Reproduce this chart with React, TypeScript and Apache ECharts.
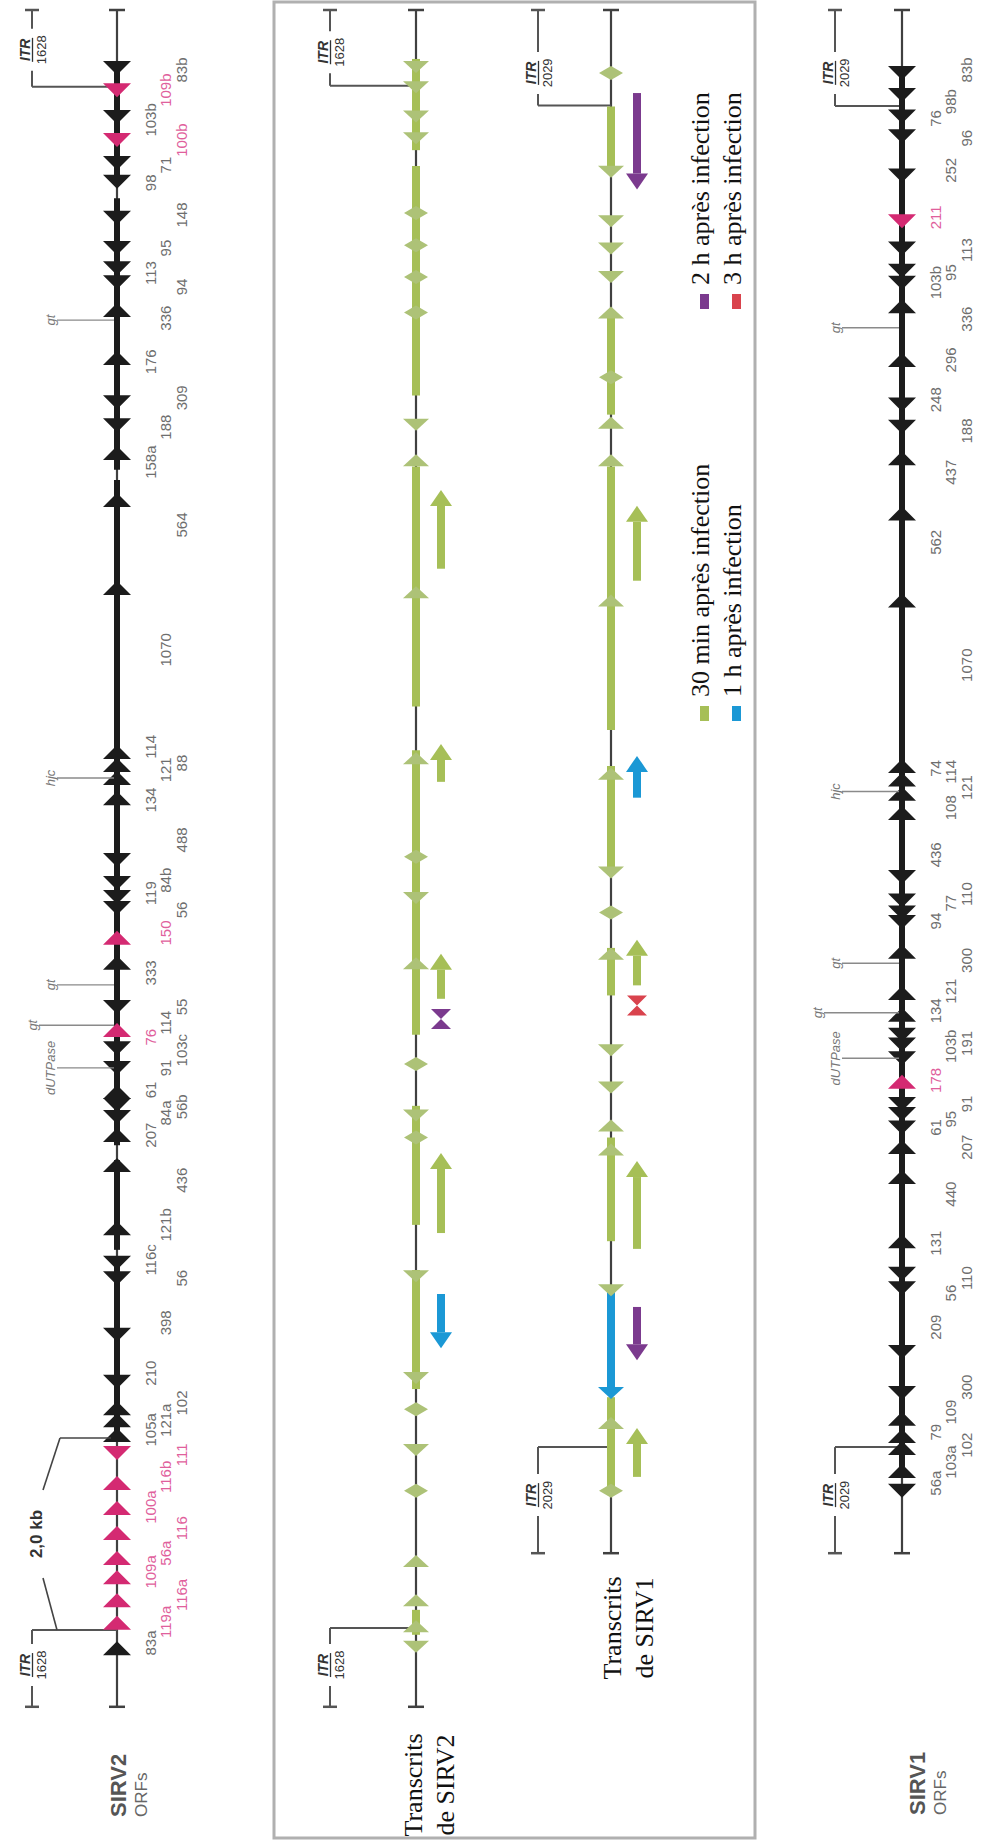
import React, { useEffect, useRef } from "react";
import * as echarts from "echarts";

/* ===================== DATA ===================== */
// The map is drawn rotated: each genome runs vertically.
// Positions are in kb, counted from the genome end drawn at the top.
const sirv2LengthKb = 35.35;
const sirv1LengthKb = 32.15;
const sirv2ItrBp = "1628";
const sirv1ItrBp = "2029";
const scaleBarText = "2,0 kb";

const timePoints = [
  "30 min après infection",
  "1 h après infection",
  "2 h après infection",
  "3 h après infection",
];

// ITR brackets: [genome end kb, junction kb, label kb]
const sirv2OrfItrs = [[0, 1.6, 0.83], [35.35, 33.75, 34.48]];
const sirv2TxItrs = [[0, 1.58, 0.88], [35.35, 33.71, 34.48]];
const sirv1TxItrs = [[0, 1.99, 1.31], [32.15, 29.94, 30.94]];
const sirv1OrfItrs = [[0, 2.0, 1.31], [32.15, 29.94, 30.94]];

// ----- SIRV2 ORFs -----
// coding stretches [from kb, to kb]
const sirv2OrfBlocks = [[1.08, 3.65], [3.92, 9.58], [9.79, 20.63], [20.73, 23.65], [23.96, 25.83], [26.08, 29.79]];
// arrow heads [kb, direction (1 = towards top, -1 = towards bottom), group (0 = ORF, 1 = highlighted ORF)]
const sirv2OrfHeads = [
  [1.21, -1, 0], [1.67, -1, 1], [2.23, -1, 0], [2.71, -1, 1], [3.19, -1, 0], [3.58, -1, 0], [4.33, -1, 0], [4.96, -1, 0],
  [5.38, -1, 0], [5.67, -1, 0], [6.25, 1, 0], [7.25, 1, 0], [8.17, -1, 0], [8.65, -1, 0], [9.23, 1, 0], [10.21, 1, 0],
  [12.04, 1, 0], [15.46, 1, 0], [15.73, 1, 0], [16.0, 1, 0], [16.42, 1, 0], [17.71, -1, 0], [18.19, -1, 0], [18.48, -1, 0],
  [18.71, -1, 0], [19.33, 1, 1], [19.85, 1, 0], [20.77, -1, 0], [21.25, 1, 1], [21.63, -1, 0], [22.04, -1, 0], [22.54, 1, 0],
  [22.81, -1, 0], [23.06, -1, 0], [23.44, 1, 0], [24.06, 1, 0], [25.38, 1, 0], [26.1, -1, 0], [26.42, -1, 0], [27.6, -1, 0],
  [28.58, -1, 0], [29.13, 1, 0], [29.38, 1, 0], [29.69, 1, 0], [30.06, -1, 1], [30.69, 1, 1], [31.21, 1, 1], [31.73, 1, 1],
  [32.25, 1, 1], [32.65, 1, 1], [33.13, 1, 1], [33.6, 1, 1], [34.13, 1, 0],
];
// ORF names [name, kb, label column, group]
const sirv2OrfLabels = [
  ["83b", 1.25, 2, 0], ["109b", 1.67, 1, 1], ["103b", 2.29, 0, 0], ["100b", 2.71, 2, 1], ["71", 3.23, 1, 0], ["98", 3.6, 0, 0],
  ["148", 4.27, 2, 0], ["95", 4.96, 1, 0], ["113", 5.48, 0, 0], ["94", 5.77, 2, 0], ["336", 6.42, 1, 0], ["176", 7.33, 0, 0],
  ["309", 8.08, 2, 0], ["188", 8.69, 1, 0], ["158a", 9.42, 0, 0], ["564", 10.73, 2, 0], ["1070", 13.33, 1, 0], ["114", 15.35, 0, 0],
  ["88", 15.69, 2, 0], ["121", 15.83, 1, 0], ["134", 16.46, 0, 0], ["488", 17.29, 2, 0], ["84b", 18.13, 1, 0], ["119", 18.4, 0, 0],
  ["56", 18.75, 2, 0], ["150", 19.23, 1, 1], ["333", 20.06, 0, 0], ["55", 20.77, 2, 0], ["114", 21.1, 1, 0], ["76", 21.4, 0, 1],
  ["103c", 21.67, 2, 0], ["91", 22.04, 1, 0], ["61", 22.5, 0, 0], ["56b", 22.85, 2, 0], ["84a", 22.98, 1, 0], ["207", 23.44, 0, 0],
  ["436", 24.38, 2, 0], ["121b", 25.31, 1, 0], ["116c", 26.04, 0, 0], ["56", 26.42, 2, 0], ["398", 27.35, 1, 0], ["210", 28.4, 0, 0],
  ["102", 29.02, 2, 0], ["121a", 29.38, 1, 0], ["105a", 29.58, 0, 0], ["111", 30.1, 2, 1], ["116b", 30.56, 1, 1], ["100a", 31.19, 0, 1],
  ["116", 31.63, 2, 1], ["56a", 32.15, 1, 1], ["109a", 32.54, 0, 1], ["116a", 33.02, 2, 1], ["119a", 33.58, 1, 1], ["83a", 34.02, 0, 0],
];
// annotated genes [name, kb]
const sirv2Genes = [["gt", 6.46], ["hjc", 16.0], ["gt", 20.31], ["gt", 21.15], ["dUTPase", 22.04]];
const sirv2ScaleBar = [[29.75, 33.75]];

// ----- SIRV2 transcripts -----
// transcribed stretches on the genome line [from kb, to kb, time point]
const sirv2TxBlocks = [[1.02, 2.92, 0], [3.25, 8.03, 0], [9.51, 14.51, 0], [15.42, 21.35, 0], [22.83, 25.31, 0], [26.25, 28.73, 0], [33.33, 33.85, 0]];
// transcript ends on the genome line [kb, direction (0 = both), time point]
const sirv2TxMarks = [
  [1.19, -1, 0], [1.61, -1, 0], [2.22, -1, 0], [2.67, -1, 0], [4.23, 0, 0], [4.9, 0, 0], [5.56, 0, 0], [6.3, 0, 0], [8.64, -1, 0],
  [9.38, 1, 0], [12.13, 1, 0], [15.59, 1, 0], [17.64, 0, 0], [18.5, -1, 0], [19.86, 1, 0], [21.96, 0, 0], [23.03, -1, 0], [23.49, 0, 0],
  [26.38, -1, 0], [28.5, -1, 0], [29.15, 0, 0], [30.0, -1, 0], [30.85, 0, 0], [32.31, 1, 0], [33.13, 1, 0], [33.67, 1, 0], [34.1, -1, 0],
];
// transcripts beside the genome [tail kb, head kb, time point]
const sirv2TxArrows = [[11.64, 10.0, 0], [16.08, 15.29, 0], [20.6, 19.66, 0], [25.48, 23.81, 0], [26.75, 27.88, 1]];
// very short transcripts [kb, time point]
const sirv2TxShort = [[21.02, 2]];

// ----- SIRV1 transcripts -----
const sirv1TxBlocks = [[2.01, 3.25, 0], [6.38, 8.43, 0], [9.51, 15.0, 0], [15.75, 17.89, 0], [19.54, 20.53, 0], [23.49, 25.65, 0], [26.67, 28.81, 1], [28.9, 30.77, 0]];
const sirv1TxMarks = [
  [1.31, 0, 0], [3.37, -1, 0], [4.4, -1, 0], [4.97, -1, 0], [5.56, -1, 0], [6.3, 1, 0], [7.65, 0, 0], [8.6, 1, 0], [9.38, 1, 0],
  [12.3, 1, 0], [15.91, 1, 0], [17.97, -1, 0], [18.8, 0, 0], [19.66, 1, 0], [21.67, -1, 0], [22.45, -1, 0], [23.24, 1, 0],
  [23.74, 1, 0], [26.67, -1, 0], [28.81, -1, 1], [29.44, 1, 0], [30.85, 0, 0],
];
const sirv1TxArrows = [[1.73, 3.74, 2], [11.89, 10.33, 0], [16.41, 15.54, 1], [20.32, 19.37, 0], [25.81, 23.98, 0], [27.02, 28.13, 2], [30.56, 29.54, 0]];
const sirv1TxShort = [[20.74, 3]];

// ----- SIRV1 ORFs -----
const sirv1OrfBlocks = [[1.25, 12.3], [12.3, 30.5]];
const sirv1OrfHeads = [
  [1.31, -1, 0], [1.77, -1, 0], [2.22, -1, 0], [2.63, -1, 0], [3.45, -1, 0], [4.4, -1, 1], [4.97, -1, 0], [5.43, -1, 0], [5.68, -1, 0],
  [6.17, 1, 0], [7.29, 1, 0], [8.22, -1, 0], [8.68, -1, 0], [9.34, 1, 0], [10.49, 1, 0], [12.3, 1, 0], [15.75, 1, 0], [16.03, 1, 0],
  [16.33, 1, 0], [16.73, 1, 0], [18.06, -1, 0], [18.55, -1, 0], [18.8, -1, 0], [19.0, -1, 0], [19.62, 1, 0], [20.48, 1, 0], [20.93, 1, 0],
  [21.35, -1, 0], [21.55, -1, 0], [21.84, -1, 0], [22.33, 1, 1], [22.79, -1, 0], [23.0, -1, 0], [23.28, -1, 0], [23.69, 1, 0], [24.31, 1, 0],
  [25.65, 1, 0], [26.33, -1, 0], [26.63, -1, 0], [27.96, -1, 0], [28.81, -1, 0], [29.35, 1, 0], [29.71, 1, 0], [29.96, 1, 0], [30.44, 1, 0],
  [30.85, -1, 0],
];
const sirv1OrfLabels = [
  ["83b", 1.25, 2, 0], ["98b", 1.91, 1, 0], ["76", 2.26, 0, 0], ["96", 2.67, 2, 0], ["252", 3.34, 1, 0], ["211", 4.32, 0, 1],
  ["113", 5.0, 2, 0], ["95", 5.47, 1, 0], ["103b", 5.68, 0, 0], ["336", 6.44, 2, 0], ["296", 7.29, 1, 0], ["248", 8.12, 0, 0],
  ["188", 8.77, 2, 0], ["437", 9.63, 1, 0], ["562", 11.09, 0, 0], ["1070", 13.65, 2, 0], ["74", 15.8, 0, 0], ["114", 15.87, 1, 0],
  ["121", 16.2, 2, 0], ["108", 16.62, 1, 0], ["436", 17.6, 0, 0], ["110", 18.42, 2, 0], ["77", 18.61, 1, 0], ["94", 18.98, 0, 0],
  ["300", 19.8, 2, 0], ["121", 20.44, 1, 0], ["134", 20.85, 0, 0], ["191", 21.53, 2, 0], ["103b", 21.59, 1, 0], ["178", 22.3, 0, 1],
  ["91", 22.79, 2, 0], ["95", 23.11, 1, 0], ["61", 23.28, 0, 0], ["207", 23.69, 2, 0], ["440", 24.67, 1, 0], ["131", 25.69, 0, 0],
  ["110", 26.42, 2, 0], ["56", 26.73, 1, 0], ["209", 27.44, 0, 0], ["300", 28.69, 2, 0], ["109", 29.21, 1, 0], ["79", 29.63, 0, 0],
  ["102", 29.9, 2, 0], ["103a", 30.25, 1, 0], ["56a", 30.69, 0, 0],
];
const sirv1Genes = [["gt", 6.62], ["hjc", 16.28], ["gt", 19.86], ["gt", 20.89], ["dUTPase", 21.84]];

/* ===================== LAYOUT & STYLE ===================== */
const W = 989;
const H = 1843;
const KB_PX = 48;
const TOP = 10;
const TRACKS = [
  { x: 117, len: sirv2LengthKb, itrOff: -85, lane: 0 },
  { x: 416, len: sirv2LengthKb, itrOff: -86, lane: 25 },
  { x: 611, len: sirv1LengthKb, itrOff: -73, lane: 26 },
  { x: 915, len: sirv1LengthKb, itrOff: -77, lane: 0 },
];
const COLS = [33, 48, 64];
const SANS = "'Liberation Sans', Arial, sans-serif";
const SERIF = "'Liberation Serif', 'Times New Roman', serif";
const BACKBONE = "#404040";
const ORF_COLORS = ["#1c1c1c", "#d42a72"];
const LABEL_COLORS = ["#6e6e6e", "#e0609c"];
const TIME_COLORS = ["#a6bf57", "#1b98d5", "#7b3a8e", "#d9434d"];
const MARK_GREEN = "#adc277";

/* ===================== HELPERS ===================== */
const line = (x1: number, y1: number, x2: number, y2: number, stroke: string, lineWidth: number) => ({
  type: "line",
  shape: { x1, y1, x2, y2 },
  style: { stroke, lineWidth },
});
const poly = (points: number[][], fill: string) => ({ type: "polygon", shape: { points }, style: { fill } });
const tri = (cx: number, cy: number, dir: number, w: number, h: number, fill: string) =>
  dir > 0
    ? poly([[cx, cy - h / 2], [cx - w / 2, cy + h / 2], [cx + w / 2, cy + h / 2]], fill)
    : poly([[cx, cy + h / 2], [cx - w / 2, cy - h / 2], [cx + w / 2, cy - h / 2]], fill);
const vText = (x: number, y: number, text: string, size: number, fill: string, extra: any = {}) => ({
  type: "text",
  x,
  y,
  rotation: Math.PI / 2,
  style: { text, x: 0, y: 0, fontSize: size, fontFamily: SANS, fill, align: "center", verticalAlign: "middle", ...extra },
});

const custom = (idx: number, data: any[], renderItem: any, z: number) => ({
  type: "custom",
  coordinateSystem: "cartesian2d",
  xAxisIndex: idx,
  yAxisIndex: idx,
  data,
  renderItem,
  z,
  silent: true,
  clip: false,
});

const backboneSeries = (idx: number) =>
  custom(idx, [[0, TRACKS[idx].len]], (p: any, api: any) => {
    const a = api.coord([0, api.value(0)]);
    const b = api.coord([0, api.value(1)]);
    return {
      type: "group",
      children: [
        line(a[0], a[1], b[0], b[1], BACKBONE, 2.2),
        line(a[0] - 8, a[1], a[0] + 8, a[1], BACKBONE, 2.5),
        line(b[0] - 8, b[1], b[0] + 8, b[1], BACKBONE, 2.5),
      ],
    };
  }, 1);

const itrSeries = (idx: number, itrs: number[][], bp: string) =>
  custom(idx, itrs, (p: any, api: any) => {
    const off = TRACKS[idx].itrOff;
    const e = api.coord([off, api.value(0)]);
    const j = api.coord([off, api.value(1)]);
    const t = api.coord([0, api.value(1)]);
    const l = api.coord([off, api.value(2)]);
    return {
      type: "group",
      children: [
        line(e[0], e[1], j[0], j[1], "#555", 2),
        line(j[0], j[1], t[0], t[1], "#555", 2),
        line(e[0] - 7, e[1], e[0] + 7, e[1], "#555", 2.5),
        { type: "rect", shape: { x: l[0] - 19, y: l[1] - 21, width: 38, height: 42 }, style: { fill: "#fff" } },
        vText(l[0] - 7, l[1], "ITR", 14, "#333", { fontWeight: "bold", fontStyle: "italic" }),
        line(l[0] + 0.5, l[1] - 12, l[0] + 0.5, l[1] + 12, "#333", 1.3),
        vText(l[0] + 9, l[1], bp, 13, "#333"),
      ],
    };
  }, 2);

const orfBlockSeries = (idx: number, blocks: number[][]) =>
  custom(idx, blocks, (p: any, api: any) => {
    const a = api.coord([0, api.value(0)]);
    const b = api.coord([0, api.value(1)]);
    return line(a[0], a[1], b[0], b[1], ORF_COLORS[0], 6);
  }, 2);

const orfHeadSeries = (idx: number, heads: number[][]) =>
  custom(idx, heads, (p: any, api: any) => {
    const c = api.coord([0, api.value(0)]);
    return tri(c[0], c[1], api.value(1), 28, 14, ORF_COLORS[api.value(2)]);
  }, 3);

const orfLabelSeries = (idx: number, labels: any[]) =>
  custom(idx, labels.map((l) => [l[1], l[2], l[3]]), (p: any, api: any) => {
    const c = api.coord([0, api.value(0)]);
    return vText(c[0] + COLS[api.value(1)], c[1], labels[p.dataIndex][0], 15, LABEL_COLORS[api.value(2)]);
  }, 4);

const geneSeries = (idx: number, genes: any[]) =>
  custom(idx, genes.map((g) => [g[1]]), (p: any, api: any) => {
    const i = p.dataIndex;
    const kb = api.value(0);
    const prev = i > 0 ? genes[i - 1][1] : null;
    const next = i < genes.length - 1 ? genes[i + 1][1] : null;
    const far = prev != null && next != null && kb - prev < 1.2 && next - kb < 1.2;
    const off = far ? -85 : -67;
    const c = api.coord([0, kb]);
    const txt = genes[i][0];
    return {
      type: "group",
      children: [
        line(c[0] + off + 7, c[1], c[0] - 3, c[1], "#8a8a8a", 1.4),
        vText(c[0] + off, c[1], txt, 13, "#777", { fontStyle: "italic" }),
      ],
    };
  }, 4);

const scaleBarSeries = (idx: number) =>
  custom(idx, sirv2ScaleBar, (p: any, api: any) => {
    const a = api.coord([0, api.value(0)]);
    const b = api.coord([0, api.value(1)]);
    const xb = a[0] - 57;
    const xd = a[0] - 74;
    const mid = (a[1] + b[1]) / 2;
    return {
      type: "group",
      children: [
        line(a[0] - 6, a[1], xb, a[1], "#444", 1.6),
        line(xb, a[1], xd, a[1] + 52, "#444", 1.6),
        line(xd, b[1] - 52, xb - 3, b[1], "#444", 1.6),
        vText(a[0] - 81, mid, scaleBarText, 17, "#333", { fontWeight: "bold" }),
      ],
    };
  }, 4);

const txBlockSeries = (idx: number, blocks: number[][]) =>
  custom(idx, blocks, (p: any, api: any) => {
    const a = api.coord([0, api.value(0)]);
    const b = api.coord([0, api.value(1)]);
    return line(a[0], a[1], b[0], b[1], TIME_COLORS[api.value(2)], 8);
  }, 2);

const txMarkSeries = (idx: number, marks: number[][]) =>
  custom(idx, marks, (p: any, api: any) => {
    const c = api.coord([0, api.value(0)]);
    const dir = api.value(1);
    const t = api.value(2);
    const color = t === 0 ? MARK_GREEN : TIME_COLORS[t];
    if (dir === 0) {
      return poly([[c[0], c[1] - 7], [c[0] + 12, c[1]], [c[0], c[1] + 7], [c[0] - 12, c[1]]], color);
    }
    return tri(c[0], c[1], dir, 26, 12, color);
  }, 3);

const txArrowSeries = (idx: number, arrows: number[][]) =>
  custom(idx, arrows, (p: any, api: any) => {
    const lane = TRACKS[idx].lane;
    const tail = api.coord([lane, api.value(0)]);
    const head = api.coord([lane, api.value(1)]);
    const color = TIME_COLORS[api.value(2)];
    const dir = head[1] < tail[1] ? 1 : -1;
    const hh = 16;
    const hw = 22;
    const baseY = head[1] + dir * hh;
    return {
      type: "group",
      children: [
        line(tail[0], tail[1], head[0], baseY, color, 8),
        poly([[head[0], head[1]], [head[0] - hw / 2, baseY], [head[0] + hw / 2, baseY]], color),
      ],
    };
  }, 3);

const txShortSeries = (idx: number, items: number[][]) =>
  custom(idx, items, (p: any, api: any) => {
    const lane = TRACKS[idx].lane;
    const c = api.coord([lane, api.value(0)]);
    const color = TIME_COLORS[api.value(1)];
    return {
      type: "group",
      children: [
        poly([[c[0] - 10, c[1] - 10], [c[0] + 10, c[1] - 10], [c[0], c[1]]], color),
        poly([[c[0], c[1]], [c[0] - 10, c[1] + 10], [c[0] + 10, c[1] + 10]], color),
      ],
    };
  }, 3);

/* ===================== OPTION ===================== */
function buildOption() {
  const grid = TRACKS.map((t) => ({ left: t.x - 100, top: TOP, width: 200, height: t.len * KB_PX }));
  const xAxis = TRACKS.map((t, i) => ({ type: "value", gridIndex: i, min: -100, max: 100, show: false }));
  const yAxis = TRACKS.map((t, i) => ({ type: "value", gridIndex: i, min: 0, max: t.len, inverse: true, show: false }));

  const series = [
    // SIRV2 ORFs
    backboneSeries(0),
    itrSeries(0, sirv2OrfItrs, sirv2ItrBp),
    orfBlockSeries(0, sirv2OrfBlocks),
    orfHeadSeries(0, sirv2OrfHeads),
    orfLabelSeries(0, sirv2OrfLabels),
    geneSeries(0, sirv2Genes),
    scaleBarSeries(0),
    // SIRV2 transcripts
    backboneSeries(1),
    itrSeries(1, sirv2TxItrs, sirv2ItrBp),
    txBlockSeries(1, sirv2TxBlocks),
    txMarkSeries(1, sirv2TxMarks),
    txArrowSeries(1, sirv2TxArrows),
    txShortSeries(1, sirv2TxShort),
    // SIRV1 transcripts
    backboneSeries(2),
    itrSeries(2, sirv1TxItrs, sirv1ItrBp),
    txBlockSeries(2, sirv1TxBlocks),
    txMarkSeries(2, sirv1TxMarks),
    txArrowSeries(2, sirv1TxArrows),
    txShortSeries(2, sirv1TxShort),
    // SIRV1 ORFs
    backboneSeries(3),
    itrSeries(3, sirv1OrfItrs, sirv1ItrBp),
    orfBlockSeries(3, sirv1OrfBlocks),
    orfHeadSeries(3, sirv1OrfHeads),
    orfLabelSeries(3, sirv1OrfLabels),
    geneSeries(3, sirv1Genes),
  ];

  const serifText = (x: number, y: number, text: string, align: string) => ({
    type: "text",
    x,
    y,
    rotation: Math.PI / 2,
    style: { text, x: 0, y: 0, fontSize: 26, fontFamily: SERIF, fill: "#111", align, verticalAlign: "middle" },
  });

  // legend: [column x, start y] for each time point
  const legendPos = [[700, 697], [732, 697], [700, 285], [732, 285]];
  const legend: any[] = [];
  timePoints.forEach((tp, i) => {
    const [lx, ly] = legendPos[i];
    legend.push({ type: "rect", shape: { x: lx, y: ly + 9, width: 9, height: 15 }, style: { fill: TIME_COLORS[i] } });
    legend.push(serifText(lx, ly, tp, "left"));
  });

  const graphic = [
    { type: "rect", shape: { x: 274, y: 2, width: 481, height: 1836 }, style: { fill: "none", stroke: "#b0b0b0", lineWidth: 3 }, z: 0 },
    ...legend,
    serifText(413, 1785, "Transcrits", "center"),
    serifText(445, 1785, "de SIRV2", "center"),
    serifText(612, 1628, "Transcrits", "center"),
    serifText(644, 1628, "de SIRV1", "center"),
    { type: "text", x: 118, y: 1817, rotation: Math.PI / 2, style: { text: "SIRV2", x: 0, y: 0, fontSize: 22, fontWeight: "bold", fontFamily: SANS, fill: "#555", align: "left", verticalAlign: "middle" } },
    { type: "text", x: 141, y: 1817, rotation: Math.PI / 2, style: { text: "ORFs", x: 0, y: 0, fontSize: 17, fontFamily: SANS, fill: "#666", align: "left", verticalAlign: "middle" } },
    { type: "text", x: 917, y: 1815, rotation: Math.PI / 2, style: { text: "SIRV1", x: 0, y: 0, fontSize: 22, fontWeight: "bold", fontFamily: SANS, fill: "#555", align: "left", verticalAlign: "middle" } },
    { type: "text", x: 940, y: 1815, rotation: Math.PI / 2, style: { text: "ORFs", x: 0, y: 0, fontSize: 17, fontFamily: SANS, fill: "#666", align: "left", verticalAlign: "middle" } },
  ];

  return {
    animation: false,
    backgroundColor: "#ffffff",
    grid,
    xAxis,
    yAxis,
    series,
    graphic,
  };
}

export default function App() {
  const ref = useRef<HTMLDivElement>(null);
  useEffect(() => {
    if (!ref.current) return;
    const chart = echarts.init(ref.current, null, { renderer: "svg" });
    chart.setOption(buildOption() as any);
    return () => chart.dispose();
  }, []);
  return (
    <div
      ref={ref}
      style={{ position: "absolute", left: 0, top: 0, width: W, height: H, background: "#fff" }}
    />
  );
}
